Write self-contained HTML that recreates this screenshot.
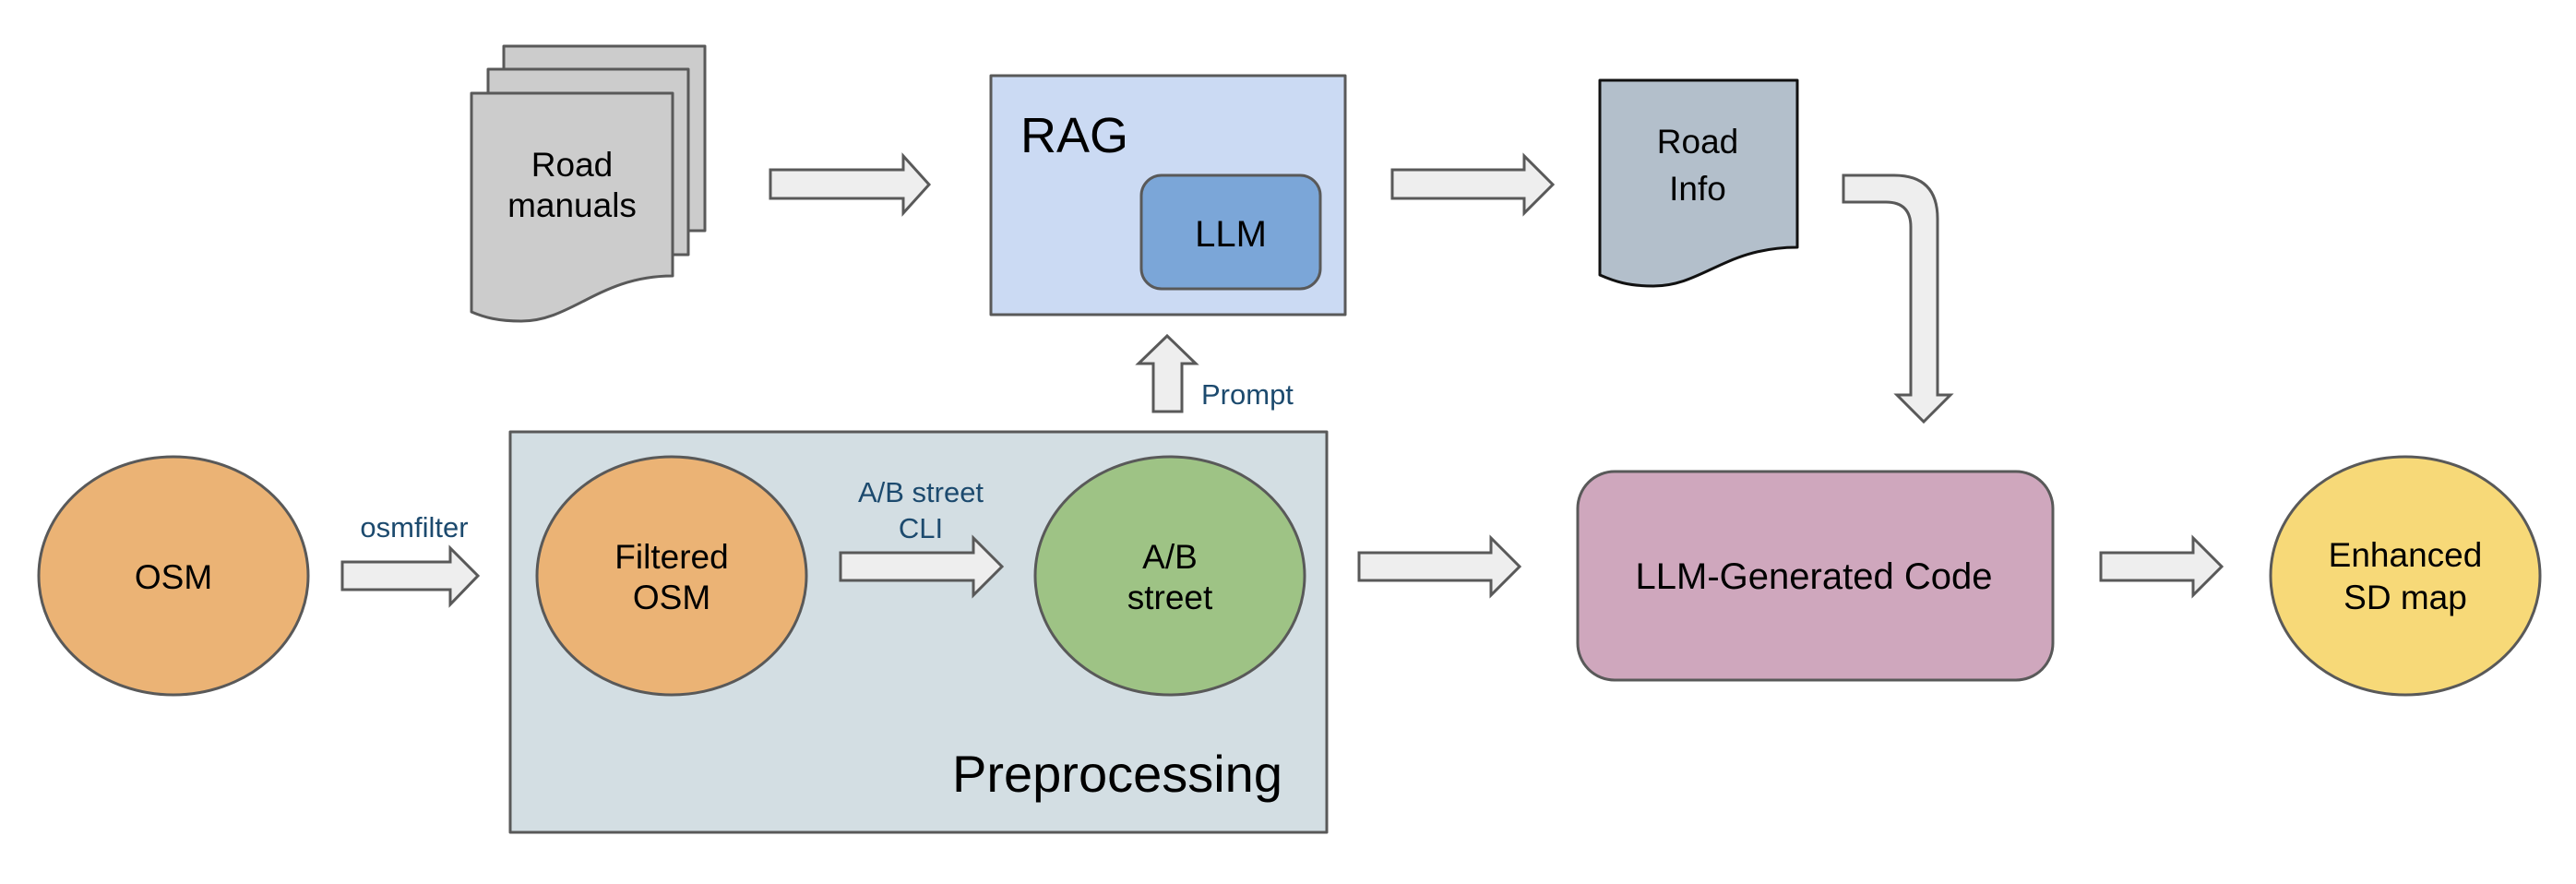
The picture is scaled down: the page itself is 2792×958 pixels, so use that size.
<!DOCTYPE html>
<html><head><meta charset="utf-8"><style>
html,body{margin:0;padding:0;background:#fff}
svg{display:block}
text{font-family:"Liberation Sans",sans-serif;fill:#000}
.l{fill:#1c4a6e;font-size:31px}
</style></head><body>
<svg width="2792" height="958" viewBox="0 0 2792 958" xmlns="http://www.w3.org/2000/svg">
<g stroke="#595959" stroke-width="3" stroke-linejoin="round">
<!-- manuals stack -->
<path d="M546,50 H764 V250 H546 Z" fill="#cccccc"/>
<path d="M529,75 H746 V276 H529 Z" fill="#cccccc"/>
<path d="M511,101 H729 V299 C650,299 620,348 565,348 C540,348 525,344 511,338 Z" fill="#cccccc"/>
<!-- RAG -->
<rect x="1074" y="82" width="384" height="259" fill="#cbdaf3"/>
<rect x="1237" y="190" width="194" height="123" rx="22" fill="#7ba6d8"/>
<!-- Road info -->
<path d="M1734,87 H1948 V268 C1870,268 1845,310 1792,310 C1765,310 1750,305 1734,298 Z" fill="#b3bfcb" stroke="#111"/>
<!-- Preprocessing -->
<rect x="553" y="468" width="885" height="434" fill="#d3dee3"/>
<!-- ellipses -->
<ellipse cx="188" cy="624" rx="146" ry="129" fill="#ebb375"/>
<ellipse cx="728" cy="624" rx="146" ry="129" fill="#ebb375"/>
<ellipse cx="1268" cy="624" rx="146" ry="129" fill="#9ec385"/>
<ellipse cx="2607" cy="624" rx="146" ry="129" fill="#f7d978"/>
<!-- LLM generated code -->
<rect x="1710" y="511" width="515" height="226" rx="40" fill="#cfa7bd"/>
</g>
<g stroke="#595959" stroke-width="3" fill="#eeeeee" stroke-linejoin="miter">
<!-- arrow1 -->
<path d="M835,184 H979 V169 L1007,200 L979,231 V215 H835 Z"/>
<!-- arrow2 -->
<path d="M1509,184 H1652 V169 L1683,200 L1652,231 V215 H1509 Z"/>
<!-- osmfilter arrow -->
<path d="M371,609 H488 V594 L518,624 L488,655 V639 H371 Z"/>
<!-- CLI arrow -->
<path d="M911,599 H1055 V583 L1086,614 L1055,645 V629 H911 Z"/>
<!-- preproc -> code -->
<path d="M1473,599 H1616 V583 L1647,614 L1616,645 V629 H1473 Z"/>
<!-- code -> enhanced -->
<path d="M2277,599 H2377 V583 L2408,614 L2377,645 V629 H2277 Z"/>
<!-- prompt arrow -->
<path d="M1250,446 V394 H1234 L1265,364 L1296,394 H1281 V446 Z"/>
<!-- bend arrow -->
<path d="M1998,190 H2053 Q2100,190 2100,237 V428 H2114 L2085,457 L2056,428 H2071 V246 Q2071,219 2044,219 H1998 Z"/>
</g>
<g text-anchor="middle" font-size="37">
<text x="620" y="191">Road</text>
<text x="620" y="235">manuals</text>
<text x="1334" y="267" font-size="40">LLM</text>
<text x="1840" y="166">Road</text>
<text x="1840" y="217">Info</text>
<text x="188" y="638">OSM</text>
<text x="728" y="616">Filtered</text>
<text x="728" y="660">OSM</text>
<text x="1268" y="616">A/B</text>
<text x="1268" y="660">street</text>
<text x="1966" y="638" font-size="40">LLM-Generated Code</text>
<text x="2607" y="614">Enhanced</text>
<text x="2607" y="660">SD map</text>
<text class="l" x="449" y="582">osmfilter</text>
<text class="l" x="998" y="544">A/B street</text>
<text class="l" x="998" y="583">CLI</text>
</g>
<text x="1106" y="165" font-size="54">RAG</text>
<text x="1032" y="858" font-size="56">Preprocessing</text>
<text class="l" x="1302" y="438">Prompt</text>
</svg>
</body></html>
